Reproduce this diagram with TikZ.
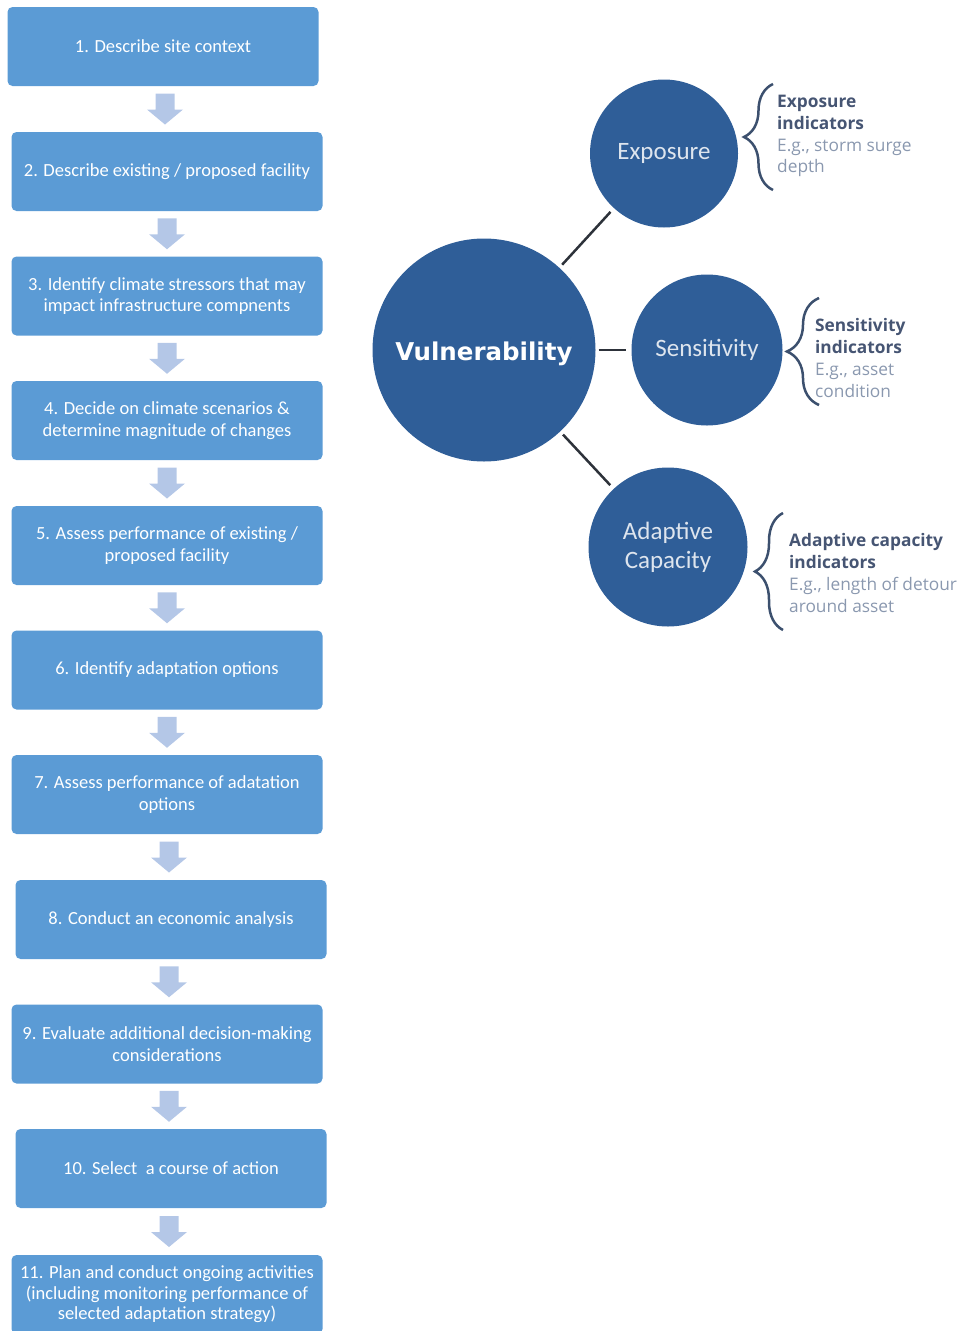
\documentclass[tikz,border=0pt]{standalone}
\usepackage{fontspec}
\setmainfont{Carlito}
\newfontfamily\vulnfont{DejaVu Sans}
\newfontfamily\sidefont{Open Sans}
\usetikzlibrary{decorations.pathreplacing,calc}
\definecolor{boxblue}{RGB}{91,155,213}
\definecolor{arrowblue}{RGB}{180,199,231}
\definecolor{circblue}{RGB}{47,94,152}
\definecolor{circtext}{RGB}{222,229,238}
\definecolor{linegray}{RGB}{45,50,58}
\definecolor{bracecol}{RGB}{60,80,110}
\definecolor{sidebold}{RGB}{70,85,115}
\definecolor{sidereg}{RGB}{138,152,175}
\begin{document}
\begin{tikzpicture}[x=1pt,y=-1pt,
  stepbox/.style={fill=boxblue, draw=none, rounded corners=5pt, minimum width=311pt, minimum height=79pt,
    text=white, align=center, font=\fontsize{18.5}{21.5}\selectfont, inner sep=0pt},
  downarr/.pic={\fill[arrowblue] (-9.5,-15.5) -- (9.5,-15.5) -- (9.5,0.5) -- (18,0.5) -- (0,15.5) -- (-18,0.5) -- (-9.5,0.5) -- cycle;},
  bigcirc/.style={circle, fill=circblue, draw=none, inner sep=0pt, text=white,
    font=\vulnfont\bfseries\fontsize{24.5}{28}\selectfont},
  smallcirc/.style={circle, fill=circblue, draw=none, inner sep=0pt, text=circtext, align=center,
    font=\fontsize{25}{29}\selectfont},
  conn/.style={draw=linegray, line width=2.5pt, shorten >=5pt, shorten <=4pt},
  bracestyle/.style={draw=bracecol, line width=2.5pt, decorate},
  sidetext/.style={anchor=west, align=left, inner sep=0pt, font=\sidefont\fontsize{17.3}{21.8}\selectfont}
]
\useasboundingbox (0,0) rectangle (961,1331);

% flowchart steps
\node[stepbox] (b1) at (163,46.5) {1. Describe site context};
\node[stepbox] (b2) at (167,171.5) {2. Describe existing / proposed facility};
\node[stepbox] (b3) at (167,296) {3. Identify climate stressors that may\\impact infrastructure compnents};
\node[stepbox] (b4) at (167,420.5) {4. Decide on climate scenarios \&\\determine magnitude of changes};
\node[stepbox] (b5) at (167,545.5) {5. Assess performance of existing /\\proposed facility};
\node[stepbox] (b6) at (167,670) {6. Identify adaptation options};
\node[stepbox] (b7) at (167,794.5) {7. Assess performance of adatation\\options};
\node[stepbox] (b8) at (171,919.5) {8. Conduct an economic analysis};
\node[stepbox] (b9) at (167,1044) {9. Evaluate additional decision-making\\considerations};
\node[stepbox] (b10) at (171,1168.5) {10. Select\ \ a course of action};
\node[stepbox, font=\fontsize{18.5}{20.5}\selectfont] (b11) at (167,1294.5) {11. Plan and conduct ongoing activities\\(including monitoring performance of\\selected adaptation strategy)};

% block arrows between steps
\foreach \a/\b in {b1/b2,b2/b3,b3/b4,b4/b5,b5/b6,b6/b7,b7/b8,b8/b9,b9/b10,b10/b11}{
  \path ($(\a.south)!0.5!(\b.north)$) pic {downarr};
}

% vulnerability diagram
\node[bigcirc, minimum size=223pt, text height=20pt, text depth=0pt] (vul) at (484,350) {Vulnerability};
\node[smallcirc, minimum size=148pt] (exp) at (664,153.5) {Exposure};
\node[smallcirc, minimum size=151pt] (sen) at (707,350) {Sensitivity};
\node[smallcirc, minimum size=159pt] (ada) at (668,547) {Adaptive\\Capacity};

\draw[conn] (vul) -- (exp);
\draw[conn, shorten <=3pt] (vul) -- (sen);
\draw[conn] (vul) -- (ada);

% braces
\coordinate (e1) at (773,190);
\coordinate (e2) at (773,84);
\draw[bracestyle, decoration={brace, amplitude=29pt}] (e1) -- (e2);
\coordinate (s1) at (819,405);
\coordinate (s2) at (819,298);
\draw[bracestyle, decoration={brace, amplitude=32pt}] (s1) -- (s2);
\coordinate (a1) at (783,630);
\coordinate (a2) at (783,513);
\draw[bracestyle, decoration={brace, amplitude=28pt}] (a1) -- (a2);

% indicator texts
\node[sidetext] (et) at (777,136) {\textcolor{sidebold}{\bfseries Exposure}\\\textcolor{sidebold}{\bfseries indicators}\\\textcolor{sidereg}{E.g., storm surge}\\\textcolor{sidereg}{depth}};
\node[sidetext] (st) at (815,358) {\textcolor{sidebold}{\bfseries Sensitivity}\\\textcolor{sidebold}{\bfseries indicators}\\\textcolor{sidereg}{E.g., asset}\\\textcolor{sidereg}{condition}};
\node[sidetext] (at) at (789,573) {\textcolor{sidebold}{\bfseries Adaptive capacity}\\\textcolor{sidebold}{\bfseries indicators}\\\textcolor{sidereg}{E.g., length of detour}\\\textcolor{sidereg}{around asset}};
\end{tikzpicture}
\end{document}
